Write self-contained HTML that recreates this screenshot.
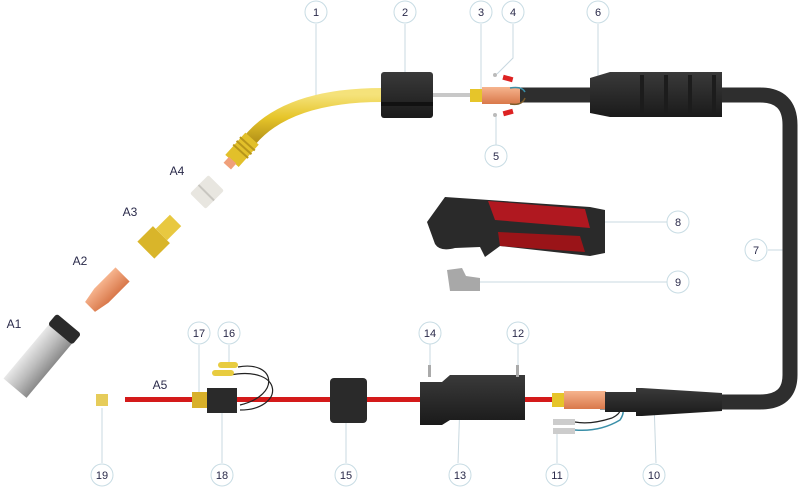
<!DOCTYPE html>
<html><head><meta charset="utf-8"><style>
html,body{margin:0;padding:0;background:#fff;}
svg{display:block;}
text{font-family:"Liberation Sans",sans-serif;fill:#2a2a4a;}
</style></head><body>
<svg width="800" height="487" viewBox="0 0 800 487" xmlns="http://www.w3.org/2000/svg">
<defs>
<linearGradient id="ylw" x1="0" y1="0" x2="0" y2="1"><stop offset="0" stop-color="#f5e27a"/><stop offset="0.5" stop-color="#e6c52a"/><stop offset="1" stop-color="#b8961a"/></linearGradient>
<linearGradient id="blk" x1="0" y1="0" x2="0" y2="1"><stop offset="0" stop-color="#3a3a3a"/><stop offset="0.5" stop-color="#2a2a2a"/><stop offset="1" stop-color="#1a1a1a"/></linearGradient>
<linearGradient id="cu" x1="0" y1="0" x2="0" y2="1"><stop offset="0" stop-color="#f6b48e"/><stop offset="1" stop-color="#d9784a"/></linearGradient>
<linearGradient id="sil" x1="0" y1="0" x2="0" y2="1"><stop offset="0" stop-color="#e8e8e8"/><stop offset="0.5" stop-color="#bdbdbd"/><stop offset="1" stop-color="#8a8a8a"/></linearGradient>
</defs>
<g stroke="#c8d8e0" stroke-width="1" fill="none">
<line x1="316" y1="24" x2="316" y2="100"/>
<line x1="405" y1="24" x2="405" y2="92"/>
<line x1="481" y1="24" x2="481" y2="92"/>
<polyline points="513,24 513,58 497,74"/>
<line x1="598" y1="24" x2="598" y2="92"/>
<line x1="496" y1="114" x2="496" y2="145"/>
<line x1="580" y1="222" x2="667" y2="222"/>
<line x1="768" y1="250" x2="790" y2="250"/>
<line x1="480" y1="282" x2="667" y2="282"/>
<line x1="430" y1="344" x2="430" y2="368"/>
<line x1="518" y1="344" x2="518" y2="368"/>
<line x1="199" y1="345" x2="199" y2="395"/>
<line x1="229" y1="345" x2="229" y2="362"/>
<line x1="102" y1="408" x2="102" y2="463"/>
<line x1="222" y1="402" x2="222" y2="463"/>
<line x1="346" y1="400" x2="346" y2="463"/>
<line x1="460" y1="400" x2="458" y2="463"/>
<line x1="557" y1="430" x2="557" y2="463"/>
<line x1="654" y1="402" x2="656" y2="463"/>
</g>
<path d="M520,95 H760 Q790,95 790,125 V375 Q790,402 760,402 H600" stroke="#2e2e2e" stroke-width="15" fill="none"/>
<path d="M382,95 C320,95 275,110 250,140" stroke="url(#ylw)" stroke-width="14" fill="none" stroke-linecap="butt"/>
<g transform="translate(240,152) rotate(-48)">
<rect x="-12" y="-9" width="30" height="18" fill="#e2c02a"/>
<rect x="0" y="-10" width="2" height="20" fill="#b8961a"/><rect x="5" y="-10" width="2" height="20" fill="#b8961a"/><rect x="10" y="-10" width="2" height="20" fill="#b8961a"/>
<rect x="-19" y="-5" width="8" height="10" fill="#f0a07a"/>
</g>
<rect x="381" y="72" width="52" height="46" rx="3" fill="url(#blk)"/>
<rect x="381" y="102" width="52" height="4" fill="#111"/>
<rect x="433" y="93" width="40" height="4" fill="#c8c8c8"/>
<rect x="470" y="89" width="12" height="13" fill="#e6c52a"/>
<rect x="482" y="87" width="38" height="17" fill="url(#cu)"/>
<path d="M510,88 Q522,86 525,92" stroke="#3a8fa8" stroke-width="1.5" fill="none"/>
<path d="M510,104 Q522,106 525,98" stroke="#7a5a2a" stroke-width="1.5" fill="none"/>
<rect x="503" y="76" width="10" height="5" fill="#d22" transform="rotate(15 508 78)"/>
<rect x="503" y="110" width="10" height="5" fill="#d22" transform="rotate(-15 508 112)"/>
<circle cx="495" cy="75" r="2" fill="#bbb"/><circle cx="495" cy="115" r="2" fill="#bbb"/>
<path d="M590,78 L610,72 H722 V117 H610 L590,113 Z" fill="url(#blk)"/>
<g fill="#1c1c1c"><rect x="640" y="75" width="4" height="40"/><rect x="664" y="75" width="4" height="40"/><rect x="688" y="75" width="4" height="40"/><rect x="712" y="75" width="4" height="40"/></g>
<path d="M427,222 L445,197 L590,207 L605,210 V253 L590,256 L500,246 L485,257 L480,247 L455,248 Q440,252 435,244 Z" fill="#2a2a2a"/>
<path d="M488,201 L585,209 L590,228 L495,220 Z" fill="#b01820"/>
<path d="M498,232 L580,236 L585,252 L500,246 Z" fill="#9a1418"/>
<path d="M447,270 L462,268 L466,276 L480,278 L480,291 L450,291 Z" fill="#a8a8a8"/>
<g transform="translate(207,192) rotate(-45)"><rect x="-13" y="-11" width="26" height="22" rx="2" fill="#e8e6e0"/><rect x="-2" y="-11" width="2" height="22" fill="#c8c6c0"/></g>
<g transform="translate(160,236) rotate(-45)"><rect x="-20" y="-12" width="22" height="24" fill="#d9b52a"/><rect x="2" y="-8" width="20" height="16" fill="#e8c840"/></g>
<g transform="translate(107,290) rotate(-45)"><path d="M-24,-7 L-8,-10 H22 V10 H-8 L-24,7 Z" fill="url(#cu)"/></g>
<g transform="translate(42,356) rotate(-50)"><rect x="-42" y="-15" width="74" height="30" fill="url(#sil)"/><rect x="28" y="-16" width="14" height="32" rx="3" fill="#2a2a2a"/></g>
<rect x="125" y="397" width="435" height="5" fill="#d41a1a"/>
<rect x="96" y="394" width="12" height="12" fill="#e6cc5a"/>
<path d="M230,375 C285,365 285,410 240,410" stroke="#222" stroke-width="1.2" fill="none"/>
<path d="M238,367 C275,360 282,395 240,405" stroke="#222" stroke-width="1.2" fill="none"/>
<rect x="218" y="362" width="20" height="6" rx="3" fill="#e8cc40"/>
<rect x="212" y="370" width="22" height="6" rx="3" fill="#e8cc40"/>
<rect x="192" y="392" width="16" height="16" fill="#d8b02a"/>
<rect x="207" y="388" width="30" height="25" fill="#2a2a2a"/>
<rect x="330" y="378" width="37" height="45" rx="4" fill="#2a2a2a"/>
<path d="M420,382 H442 L450,375 H525 V420 H450 L442,425 H420 Z" fill="url(#blk)"/>
<rect x="428" y="365" width="3" height="12" fill="#aaa"/><rect x="516" y="365" width="3" height="12" fill="#aaa"/>
<rect x="552" y="393" width="12" height="14" fill="#e6c52a"/>
<rect x="564" y="391" width="42" height="18" fill="url(#cu)"/>
<path d="M608,402 Q630,405 620,420 Q600,432 575,430" stroke="#3a8fa8" stroke-width="1.5" fill="none"/>
<path d="M612,402 Q628,410 612,418 Q590,425 575,422" stroke="#222" stroke-width="1.2" fill="none"/>
<rect x="553" y="419" width="22" height="6" fill="#ccc"/><rect x="553" y="428" width="22" height="6" fill="#ccc"/>
<path d="M605,392 H636 V388 H642 L722,393 V411 L642,416 H636 V412 H605 Z" fill="url(#blk)"/>
<g font-size="12" text-anchor="middle">
<text x="177" y="175">A4</text><text x="130" y="216">A3</text><text x="80" y="265">A2</text><text x="14" y="328">A1</text><text x="160" y="389">A5</text>
</g>
<g fill="#fff" stroke="#c8dce4" stroke-width="1">
<circle cx="316" cy="12" r="11"/><circle cx="405" cy="12" r="11"/><circle cx="481" cy="12" r="11"/><circle cx="513" cy="12" r="11"/><circle cx="598" cy="12" r="11"/>
<circle cx="496" cy="156" r="11"/><circle cx="678" cy="222" r="11"/><circle cx="756" cy="250" r="11"/><circle cx="678" cy="282" r="11"/>
<circle cx="430" cy="333" r="11"/><circle cx="518" cy="333" r="11"/><circle cx="199" cy="333" r="11"/><circle cx="229" cy="333" r="11"/>
<circle cx="102" cy="475" r="11"/><circle cx="222" cy="475" r="11"/><circle cx="346" cy="475" r="11"/><circle cx="460" cy="475" r="11"/><circle cx="557" cy="475" r="11"/><circle cx="654" cy="475" r="11"/>
</g>
<g font-size="11" text-anchor="middle">
<text x="316" y="16">1</text><text x="405" y="16">2</text><text x="481" y="16">3</text><text x="513" y="16">4</text><text x="598" y="16">6</text>
<text x="496" y="160">5</text><text x="678" y="226">8</text><text x="756" y="254">7</text><text x="678" y="286">9</text>
<text x="430" y="337">14</text><text x="518" y="337">12</text><text x="199" y="337">17</text><text x="229" y="337">16</text>
<text x="102" y="479">19</text><text x="222" y="479">18</text><text x="346" y="479">15</text><text x="460" y="479">13</text><text x="557" y="479">11</text><text x="654" y="479">10</text>
</g>
</svg>
</body></html>
